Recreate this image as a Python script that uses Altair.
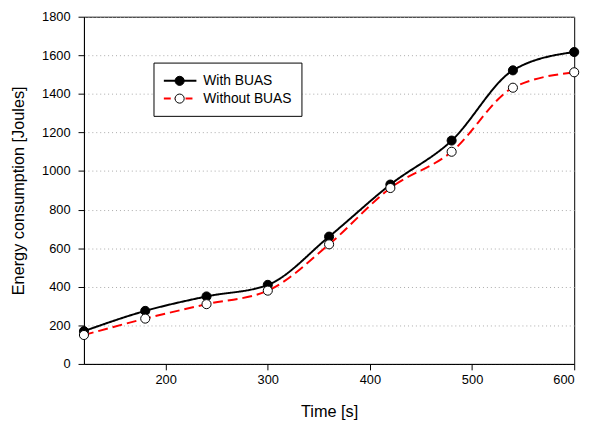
import altair as alt
import pandas as pd

time_s = [120, 180, 240, 300, 360, 420, 480, 540, 600]
with_buas = [170, 275, 350, 410, 660, 930, 1158, 1522, 1617]
without_buas = [150, 235, 310, 380, 620, 912, 1100, 1432, 1512]
series_names = ["With BUAS", "Without BUAS"]
x_ticks = [200, 300, 400, 500, 600]
y_ticks = [0, 200, 400, 600, 800, 1000, 1200, 1400, 1600, 1800]

df = pd.DataFrame({
    "time": time_s + time_s,
    "energy": with_buas + without_buas,
    "series": [series_names[0]] * len(time_s) + [series_names[1]] * len(time_s),
})

FONT = "Liberation Sans"

x = alt.X("time:Q",
          scale=alt.Scale(domain=[120, 600], nice=False, zero=False),
          axis=alt.Axis(values=x_ticks, title="Time [s]", grid=False, format="d",
                        tickSize=6, labelPadding=4, titlePadding=17))
y = alt.Y("energy:Q",
          scale=alt.Scale(domain=[0, 1800], nice=False),
          axis=alt.Axis(values=y_ticks, title="Energy consumption [Joules]", format="d",
                        grid=True, gridDash=[1, 3], gridColor="#aaaaaa",
                        tickSize=6, labelPadding=8, titlePadding=15))

color = alt.Color("series:N", scale=alt.Scale(domain=series_names, range=["#000000", "#ff0000"]), legend=None)
dash = alt.StrokeDash("series:N", scale=alt.Scale(domain=series_names, range=[[1, 0], [10, 5]]), legend=None)

lines = alt.Chart(df).mark_line(interpolate="monotone", strokeWidth=2).encode(x=x, y=y, color=color, strokeDash=dash)
points = alt.Chart(df).mark_point(shape="circle", size=85, filled=False, stroke="black",
                                  strokeWidth=1, opacity=1).encode(
    x=x, y=y,
    fill=alt.Fill("series:N", scale=alt.Scale(domain=series_names, range=["#000000", "#ffffff"]), legend=None),
)

# Legend drawn manually
one = pd.DataFrame({"label": [series_names[0]]})
two = pd.DataFrame({"label": [series_names[1]]})
box = alt.Chart(one).mark_rect(fill="white", stroke="black", strokeWidth=1).encode(
    x=alt.value(71), x2=alt.value(221), y=alt.value(47), y2=alt.value(101))
l1 = alt.Chart(one).mark_rule(color="black", strokeWidth=2).encode(
    x=alt.value(81), x2=alt.value(114), y=alt.value(65))
l2 = alt.Chart(two).mark_rule(color="#ff0000", strokeWidth=2, strokeDash=[7, 4]).encode(
    x=alt.value(81), x2=alt.value(114), y=alt.value(83))
p1 = alt.Chart(one).mark_point(shape="circle", size=85, fill="black", stroke="black", opacity=1, strokeWidth=1).encode(
    x=alt.value(97), y=alt.value(65))
p2 = alt.Chart(two).mark_point(shape="circle", size=85, fill="white", stroke="black", opacity=1, strokeWidth=1).encode(
    x=alt.value(97), y=alt.value(83))
t1 = alt.Chart(one).mark_text(align="left", baseline="middle", font=FONT, fontSize=14).encode(
    text="label:N", x=alt.value(121), y=alt.value(65))
t2 = alt.Chart(two).mark_text(align="left", baseline="middle", font=FONT, fontSize=14).encode(
    text="label:N", x=alt.value(121), y=alt.value(83))

chart = alt.layer(lines, points, box, l1, l2, p1, p2, t1, t2).properties(
    width=497, height=352,
    autosize=alt.AutoSizeParams(type="none"),
    padding={"left": 77, "top": 6, "right": 15, "bottom": 55},
    background="white",
).configure_view(stroke="black", strokeWidth=1).configure_axis(
    domainColor="black", tickColor="black", labelColor="black", titleColor="black",
    labelFont=FONT, titleFont=FONT, labelFontSize=13, titleFontSize=16.5,
    titleFontWeight="normal", domainWidth=1, tickWidth=1,
)

chart.save("out.html", embed_options={"renderer": "svg", "actions": False})
